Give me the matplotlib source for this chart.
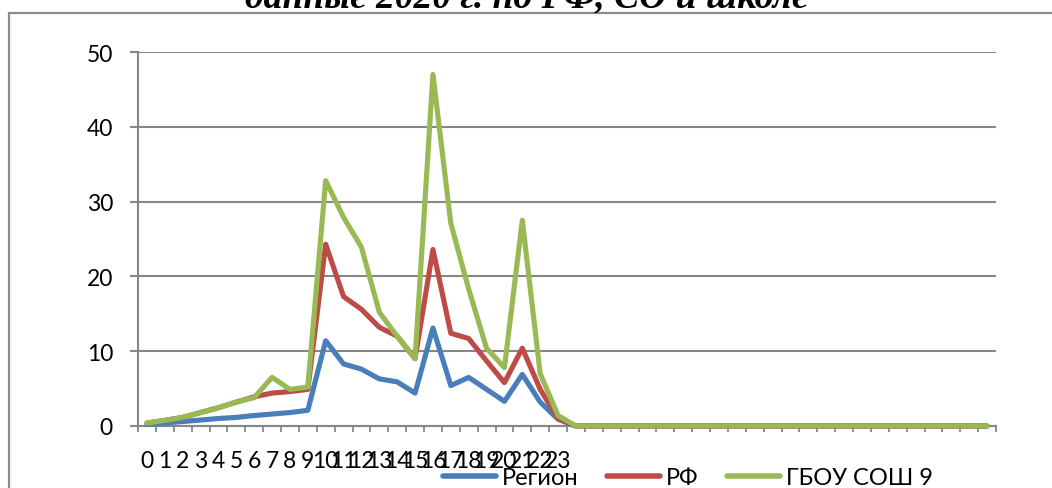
import matplotlib
matplotlib.use("Agg")
import matplotlib.pyplot as plt
from matplotlib.patches import Rectangle
from matplotlib.ticker import FixedLocator, NullFormatter

categories = list(range(48))
tick_labels = [str(i) for i in range(24)] + [""] * 24

region = [0.2, 0.4, 0.6, 0.8, 1.0, 1.15, 1.4, 1.6, 1.8, 2.1,
          11.4, 8.3, 7.6, 6.3, 5.9, 4.4, 13.1, 5.4, 6.5, 4.9,
          3.3, 6.9, 3.2, 0.9] + [0] * 24
rf = [0.4, 0.75, 1.15, 1.8, 2.45, 3.2, 3.9, 4.4, 4.6, 4.9,
      24.3, 17.3, 15.6, 13.2, 12.0, 9.0, 23.6, 12.4, 11.7, 8.7,
      5.8, 10.4, 4.9, 1.0] + [0] * 24
school = [0.4, 0.75, 1.15, 1.8, 2.45, 3.2, 3.8, 6.5, 4.9, 5.2,
          32.8, 27.9, 23.9, 15.2, 12.0, 9.0, 47.0, 27.1, 18.3, 10.4,
          7.8, 27.5, 7.0, 1.4] + [0] * 24

series_names = ["Регион", "РФ", "ГБОУ СОШ 9"]
colors = ["#4A7EBB", "#BE4B48", "#98B954"]

W, H = 1052, 489
fig = plt.figure(figsize=(W / 100, H / 100), dpi=100)
ax = fig.add_axes([138 / W, 1 - 427 / H, (996 - 138) / W, (427 - 53) / H])

font = "Lato"
grid_c = "#878787"

for data, name, c in zip([region, rf, school], series_names, colors):
    ax.plot(categories, data, color=c, lw=3.7, label=name,
            solid_joinstyle="round", solid_capstyle="round", clip_on=False, zorder=3)

ax.set_xlim(-0.5, 47.5)
ax.set_ylim(0, 50)
ax.set_yticks([0, 10, 20, 30, 40, 50])
ax.yaxis.grid(True, color=grid_c, lw=1.5)
ax.set_axisbelow(True)

ax.set_xticks(categories)
ax.set_xticklabels(tick_labels, fontfamily=font, fontsize=16.5)
ax.xaxis.set_minor_locator(FixedLocator([i - 0.5 for i in range(49)]))
ax.xaxis.set_minor_formatter(NullFormatter())
ax.tick_params(axis="x", which="major", length=0, pad=17)
ax.tick_params(axis="x", which="minor", length=4.5, width=1.3, color=grid_c)
ax.tick_params(axis="y", length=6, width=1.5, color=grid_c, pad=12)
for lab in ax.get_yticklabels():
    lab.set_fontfamily(font)
    lab.set_fontsize(16.5)

for s in ["top", "right"]:
    ax.spines[s].set_visible(False)
ax.spines["left"].set_color(grid_c)
ax.spines["left"].set_linewidth(1.5)
ax.spines["bottom"].set_color(grid_c)
ax.spines["bottom"].set_linewidth(1.5)

leg = fig.legend(loc="center", bbox_to_anchor=(688 / W, 1 - 479 / H), ncol=3,
                 frameon=False, prop={"family": font, "size": 17},
                 handlelength=2.25, handletextpad=0.25, columnspacing=1.2,
                 borderpad=0, borderaxespad=0)
for h in leg.get_lines():
    h.set_linewidth(4)

# outer frame (partially visible)
fig.add_artist(Rectangle((8.5 / W, -0.2), 1.2, 1.2 - 13.5 / H + 0.0,
                         transform=fig.transFigure, fill=False,
                         edgecolor="#8c8c8c", lw=1.6))

fig.text(527 / W, 1 - 8 / H, "данные 2020 г. по РФ, СО и школе",
         ha="center", va="baseline", fontfamily="Liberation Serif",
         fontweight="bold", fontstyle="italic", fontsize=27)

fig.savefig("out.png", dpi=100)
